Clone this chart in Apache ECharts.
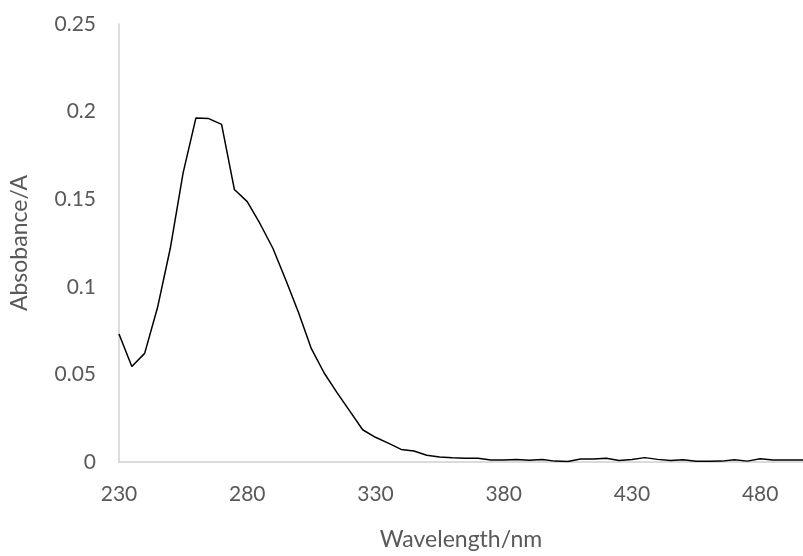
<!DOCTYPE html>
<html>
<head>
<meta charset="utf-8">
<script src="https://cdn.jsdelivr.net/npm/echarts@6/dist/echarts.min.js"></script>
<style>
  html, body { margin: 0; padding: 0; background: #fff; }
  #chart { width: 803px; height: 556px; }
</style>
</head>
<body>
<div id="chart"></div>
<script>
// Wavelength (nm), sampled every 5 nm
const wavelengths = [
  230, 235, 240, 245, 250, 255, 260, 265, 270, 275,
  280, 285, 290, 295, 300, 305, 310, 315, 320, 325,
  330, 335, 340, 345, 350, 355, 360, 365, 370, 375,
  380, 385, 390, 395, 400, 405, 410, 415, 420, 425,
  430, 435, 440, 445, 450, 455, 460, 465, 470, 475,
  480, 485, 490, 495, 500
];

// Measured absorbance (A)
const absorbance = [
  0.0731, 0.0545, 0.0620, 0.0880, 0.1220, 0.1650, 0.1964, 0.1960, 0.1927, 0.1555,
  0.1486, 0.1360, 0.1220, 0.1040, 0.0853, 0.0647, 0.0508, 0.0396, 0.0290, 0.0184,
  0.0141, 0.0108, 0.0072, 0.0063, 0.0039, 0.0028, 0.0024, 0.0021, 0.0022, 0.0011,
  0.0012, 0.0014, 0.0010, 0.0014, 0.0005, 0.0003, 0.0017, 0.0017, 0.0022, 0.0008,
  0.0014, 0.0025, 0.0015, 0.0008, 0.0013, 0.0004, 0.0004, 0.0005, 0.0013, 0.0005,
  0.0018, 0.0011, 0.0011, 0.0012, 0.0012
];

const xMin = 230, xMax = 496.7, xStep = 50;
const yMin = 0, yMax = 0.25, yStep = 0.05;

const textColor = '#595959';
const axisColor = '#d0d0d0';
const fontFamily = 'Lato, "Open Sans", sans-serif';

const chart = echarts.init(document.getElementById('chart'), null, { renderer: 'canvas' });

chart.setOption({
  animation: false,
  backgroundColor: '#ffffff',
  grid: { left: 111, right: 0, top: 24, bottom: 84, containLabel: false },
  xAxis: {
    type: 'value',
    min: xMin,
    max: xMax,
    interval: xStep,
    name: 'Wavelength/nm',
    nameLocation: 'middle',
    nameGap: 66,
    nameTextStyle: { color: textColor, fontSize: 23, fontFamily: fontFamily },
    axisLine: { show: true, lineStyle: { color: axisColor, width: 1.5 } },
    axisTick: { show: false },
    splitLine: { show: false },
    axisLabel: {
      color: textColor,
      fontSize: 21,
      fontFamily: fontFamily,
      margin: 22,
      showMaxLabel: false,
      formatter: function (v) {
        return Math.abs((v - xMin) % xStep) < 1e-6 ? String(Math.round(v)) : '';
      }
    }
  },
  yAxis: {
    type: 'value',
    min: yMin,
    max: yMax,
    interval: yStep,
    name: 'Absobance/A',
    nameLocation: 'middle',
    nameGap: 88,
    nameRotate: 90,
    nameTextStyle: { color: textColor, fontSize: 23, fontFamily: fontFamily },
    axisLine: { show: true, lineStyle: { color: axisColor, width: 1.5 } },
    axisTick: { show: false },
    splitLine: { show: false },
    axisLabel: {
      color: textColor,
      fontSize: 21,
      fontFamily: fontFamily,
      margin: 23
    }
  },
  series: [{
    type: 'line',
    data: wavelengths.map((w, i) => [w, absorbance[i]]),
    showSymbol: false,
    clip: true,
    lineStyle: { color: '#000000', width: 1.5 },
    itemStyle: { color: '#000000' }
  }]
});
</script>
</body>
</html>
